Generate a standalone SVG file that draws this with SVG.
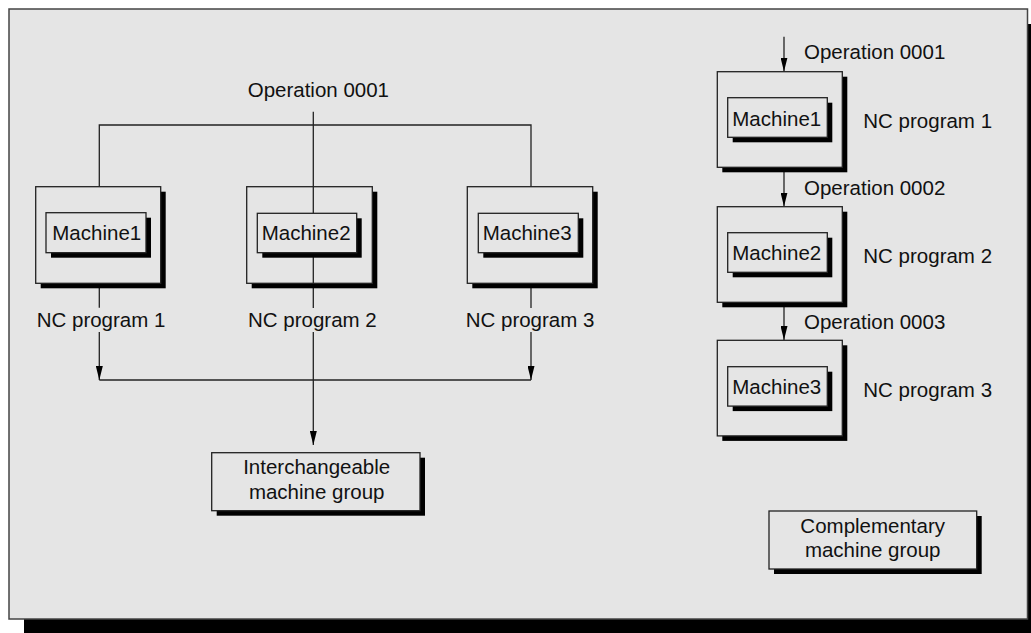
<svg xmlns="http://www.w3.org/2000/svg" width="1031" height="633" viewBox="0 0 1031 633">
<defs>
<style>
.sh{fill:#000}
.bx{fill:#e5e5e5;stroke:#222;stroke-width:1.3}
.t{font-family:"Liberation Sans",Arial,sans-serif;font-size:20.5px;fill:#111}
.c{text-anchor:middle}
.ln{fill:none;stroke:#222;stroke-width:1.3}
.arr{marker-end:url(#ah)}
</style>
<marker id="ah" viewBox="0 0 14 7" refX="14" refY="3.5" markerWidth="14" markerHeight="7" markerUnits="userSpaceOnUse" orient="auto">
<path d="M0,0 L14,3.5 L0,7 Z" fill="#000"/>
</marker>
</defs>
<rect x="0" y="0" width="1031" height="633" fill="#fff"/>
<g id="frame">
<rect x="24" y="24" width="1020" height="620" class="sh"/>
<rect x="9" y="9" width="1018.5" height="610" fill="#e5e5e5" stroke="#444" stroke-width="1.5"/>
</g>
<g id="connectors">
<path class="ln" d="M99.3,186.7 V125 H531 V186.7"/>
<path class="ln" d="M313.3,111.7 V213"/>
<path class="ln" d="M313.3,252.7 V308"/>
<path class="ln" d="M99.3,283.3 V307.7"/>
<path class="ln" d="M531,288 V308"/>
<path class="ln" d="M99.3,380 H531"/>
<path class="ln arr" d="M99.3,332 V380"/>
<path class="ln arr" d="M531,332 V380"/>
<path class="ln arr" d="M313.3,332 V445"/>
<path class="ln arr" d="M784,36.7 V71.5"/>
<path class="ln arr" d="M784,171 V206.5"/>
<path class="ln arr" d="M784,306 V340"/>
</g>
<g id="m1">
<rect x="40.7" y="191.7" width="125" height="96.6" class="sh"/>
<rect x="35.7" y="186.7" width="125" height="96.6" class="bx"/>
</g>
<g id="m2">
<rect x="251.7" y="191.7" width="125.6" height="96.6" class="sh"/>
<rect x="246.7" y="186.7" width="125.6" height="96.6" class="bx"/>
</g>
<g id="m3">
<rect x="472.3" y="191.7" width="125.4" height="96.6" class="sh"/>
<rect x="467.3" y="186.7" width="125.4" height="96.6" class="bx"/>
</g>
<g id="connector-through-m2">
<path class="ln" d="M313.3,186.7 V213"/>
<path class="ln" d="M313.3,252.7 V283.3"/>
</g>
<g id="m1-inner">
<rect x="51" y="217.7" width="100" height="40" class="sh"/>
<rect x="46" y="212.7" width="100" height="40" class="bx"/>
<text x="52.3" y="240" class="t">Machine1</text>
</g>
<g id="m2-inner">
<rect x="262.3" y="218.3" width="99.4" height="39.4" class="sh"/>
<rect x="257.3" y="213.3" width="99.4" height="39.4" class="bx"/>
<text x="261.7" y="240" class="t">Machine2</text>
</g>
<g id="m3-inner">
<rect x="483.3" y="218.3" width="100" height="39.4" class="sh"/>
<rect x="478.3" y="213.3" width="100" height="39.4" class="bx"/>
<text x="482.7" y="240" class="t">Machine3</text>
</g>
<g id="labels-left">
<text x="247.7" y="96.5" class="t">Operation 0001</text>
<text x="36.7" y="326.7" class="t">NC program 1</text>
<text x="248" y="326.7" class="t">NC program 2</text>
<text x="465.7" y="326.7" class="t">NC program 3</text>
</g>
<g id="interchangeable">
<rect x="216.7" y="457.7" width="208.3" height="58" class="sh"/>
<rect x="211.7" y="452.7" width="208.3" height="58" class="bx"/>
<text x="316.7" y="474" class="t c">Interchangeable</text>
<text x="316.7" y="499.3" class="t c">machine group</text>
</g>
<g id="r1">
<rect x="722.3" y="76.7" width="125" height="95.6" class="sh"/>
<rect x="717.3" y="71.7" width="125" height="95.6" class="bx"/>
<rect x="732.7" y="102.7" width="99.6" height="39.6" class="sh"/>
<rect x="727.7" y="97.7" width="99.6" height="39.6" class="bx"/>
<text x="732.3" y="125.5" class="t">Machine1</text>
</g>
<g id="r2">
<rect x="722.3" y="211.7" width="125" height="95.6" class="sh"/>
<rect x="717.3" y="206.7" width="125" height="95.6" class="bx"/>
<rect x="732.7" y="237.7" width="99.6" height="39.6" class="sh"/>
<rect x="727.7" y="232.7" width="99.6" height="39.6" class="bx"/>
<text x="732.3" y="259.5" class="t">Machine2</text>
</g>
<g id="r3">
<rect x="722.3" y="345.3" width="125" height="95.6" class="sh"/>
<rect x="717.3" y="340.3" width="125" height="95.6" class="bx"/>
<rect x="732.7" y="371.7" width="99.6" height="39.4" class="sh"/>
<rect x="727.7" y="366.7" width="99.6" height="39.4" class="bx"/>
<text x="732.3" y="393.5" class="t">Machine3</text>
</g>
<g id="labels-right">
<text x="804" y="59" class="t">Operation 0001</text>
<text x="863.3" y="127.7" class="t">NC program 1</text>
<text x="804" y="195" class="t">Operation 0002</text>
<text x="863.3" y="262.7" class="t">NC program 2</text>
<text x="804" y="329.3" class="t">Operation 0003</text>
<text x="863.3" y="396.7" class="t">NC program 3</text>
</g>
<g id="complementary">
<rect x="774" y="516" width="207.7" height="58" class="sh"/>
<rect x="769" y="511" width="207.7" height="58" class="bx"/>
<text x="872.7" y="532.5" class="t c">Complementary</text>
<text x="872.7" y="556.7" class="t c">machine group</text>
</g>
</svg>
